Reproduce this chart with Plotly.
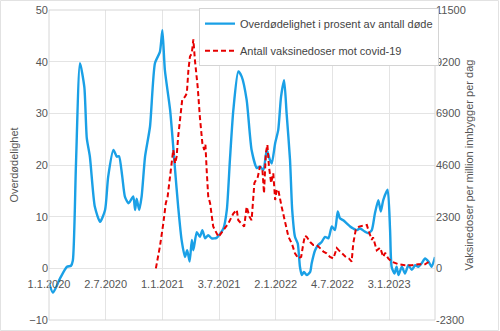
import plotly.graph_objects as go

# Overdødelighet (left axis, %)
excess_dates = [
    "2020-01-01", "2020-01-14", "2020-02-06", "2020-02-28", "2020-03-12", "2020-03-18",
    "2020-03-28", "2020-04-10", "2020-04-24", "2020-05-02", "2020-05-12", "2020-05-28",
    "2020-06-14", "2020-06-30", "2020-07-10", "2020-07-27", "2020-08-07", "2020-08-14",
    "2020-08-24", "2020-09-02", "2020-09-13", "2020-09-18", "2020-09-29", "2020-10-05",
    "2020-10-10", "2020-10-18", "2020-10-26", "2020-11-06", "2020-11-22", "2020-12-08",
    "2020-12-24", "2021-01-01", "2021-01-09", "2021-01-26", "2021-02-11", "2021-02-21",
    "2021-03-04", "2021-03-15", "2021-03-22", "2021-03-30", "2021-04-06", "2021-04-11",
    "2021-04-22", "2021-05-02", "2021-05-10", "2021-05-19", "2021-05-29", "2021-06-09",
    "2021-06-25", "2021-07-17", "2021-07-28", "2021-08-07", "2021-08-18", "2021-09-03",
    "2021-09-14", "2021-09-30", "2021-10-16", "2021-11-02", "2021-11-12", "2021-11-23",
    "2021-12-04", "2021-12-14", "2021-12-20", "2021-12-31", "2022-01-10", "2022-01-19",
    "2022-01-29", "2022-02-06", "2022-02-17", "2022-02-24", "2022-03-05", "2022-03-14",
    "2022-03-21", "2022-03-27", "2022-04-03", "2022-04-12", "2022-04-23", "2022-04-28",
    "2022-05-09", "2022-05-19", "2022-05-30", "2022-06-10", "2022-06-21", "2022-07-02",
    "2022-07-12", "2022-07-21", "2022-07-28", "2022-08-08", "2022-08-19", "2022-08-30",
    "2022-09-09", "2022-09-20", "2022-10-01", "2022-10-17", "2022-10-28", "2022-11-08",
    "2022-11-18", "2022-11-29", "2022-12-07", "2022-12-15", "2022-12-29", "2023-01-06",
    "2023-01-11", "2023-01-20", "2023-01-27", "2023-02-02", "2023-02-13", "2023-02-23",
    "2023-03-06", "2023-03-17", "2023-03-28", "2023-04-07", "2023-04-18", "2023-04-29",
    "2023-05-10", "2023-05-20", "2023-05-31",
]
excess_values = [
    -2.8, -4.7, -1.9, 0.3, 0.5, 1.5,
    20.0, 39.7, 35.1, 25.2, 21.6, 11.9,
    9.0, 11.3, 17.7, 22.9, 21.6, 21.7,
    18.0, 13.9, 12.6, 12.9, 13.9, 11.3,
    13.5, 11.3, 13.9, 21.6, 27.4, 39.7,
    41.9, 46.1, 38.4, 30.6, 19.0, 11.9,
    5.5, 2.2, 3.5, 1.3, 5.5, 3.5,
    7.0, 6.1, 7.4, 5.8, 6.4, 5.8,
    5.9, 7.7, 11.3, 21.0, 30.6, 38.1,
    37.1, 32.6, 22.9, 19.4, 19.7, 19.0,
    22.9, 21.0, 20.3, 24.2, 26.8, 33.2,
    36.4, 30.0, 21.0, 11.3, 6.1, 4.8,
    0.3, -1.3, -0.7, -1.3, -0.7, 1.0,
    3.5, 4.5, 5.1, 6.1, 5.8, 8.1,
    7.4, 11.0, 9.7, 9.3, 8.7, 8.1,
    7.7, 7.4, 7.7, 7.1, 6.8, 7.4,
    10.6, 13.2, 11.0, 13.2, 15.2, 7.4,
    0.3, -1.0, 0.3, -1.3, 0.3, -1.0,
    0.6, -0.3, 0.6, 0.3, 1.0, 1.9,
    1.3, 0.3, 2.2,
]

# Vaksinedoser per million innbygger per dag (right axis)
vacc_dates = [
    "2020-12-11", "2020-12-24", "2021-01-04", "2021-01-12", "2021-01-18", "2021-01-26",
    "2021-02-05", "2021-02-11", "2021-02-16", "2021-02-21", "2021-02-27", "2021-03-06",
    "2021-03-15", "2021-03-21", "2021-03-26", "2021-03-31", "2021-04-06", "2021-04-11",
    "2021-04-16", "2021-04-25", "2021-05-02", "2021-05-10", "2021-05-16", "2021-05-20",
    "2021-05-24", "2021-05-29", "2021-06-04", "2021-06-14", "2021-07-01", "2021-07-17",
    "2021-08-02", "2021-08-18", "2021-08-29", "2021-09-03", "2021-09-14", "2021-09-22",
    "2021-09-30", "2021-10-09", "2021-10-16", "2021-10-25", "2021-11-05", "2021-11-12",
    "2021-11-20", "2021-11-25", "2021-12-01", "2021-12-06", "2021-12-11", "2021-12-18",
    "2021-12-25", "2021-12-31", "2022-01-05", "2022-01-10", "2022-01-21", "2022-02-01",
    "2022-02-12", "2022-02-23", "2022-03-05", "2022-03-16", "2022-03-25", "2022-04-01",
    "2022-04-06", "2022-04-12", "2022-04-23", "2022-05-03", "2022-05-14", "2022-05-25",
    "2022-06-05", "2022-06-15", "2022-06-26", "2022-07-07", "2022-07-18", "2022-07-25",
    "2022-08-05", "2022-08-16", "2022-08-26", "2022-09-04", "2022-09-09", "2022-09-17",
    "2022-09-28", "2022-10-12", "2022-10-23", "2022-10-28", "2022-11-08", "2022-11-12",
    "2022-11-24", "2022-12-05", "2022-12-15", "2022-12-21", "2022-12-31", "2023-01-11",
    "2023-02-02", "2023-02-23", "2023-03-17", "2023-04-07", "2023-04-29", "2023-05-10",
]
vacc_values = [
    0, 970, 2000, 2900, 3200, 4070,
    5270, 4670, 4970, 5870, 6740, 7500,
    7640, 7800, 8830, 9430, 9570, 10190,
    9270, 8070, 6740, 5570, 5270, 5500,
    4370, 3200, 2900, 1860, 1400, 1700,
    2000, 2440, 2600, 2140, 2000, 1860,
    2740, 2300, 2140, 3800, 4070, 4530,
    4370, 3340, 5130, 5500, 4530, 3800,
    4230, 3040, 3500, 3500, 2740, 2000,
    1400, 1100, 670, 440, 510, 1100,
    1450, 1400, 1170, 1040, 1040, 900,
    740, 670, 510, 440, 900, 800,
    670, 510, 440, 300, 1100, 1700,
    1860, 1890, 1930, 1700, 1270, 1380,
    800, 920, 510, 690, 440, 300,
    180, 140, 140, 180, 180, 280,
]

tick_dates = ["2020-01-01", "2020-07-02", "2021-01-01", "2021-07-03",
              "2022-01-02", "2022-07-04", "2023-01-03"]
tick_labels = ["1.1.2020", "2.7.2020", "1.1.2021", "3.7.2021",
               "2.1.2022", "4.7.2022", "3.1.2023"]
left_ticks = [-10, 0, 10, 20, 30, 40, 50]
right_ticks = [-2300, 0, 2300, 4600, 6900, 9200, 11500]
right_tick_labels = ["-2300", "0", "2300", "4600", "6900", "9200", "11500"]

FONT = "Liberation Sans, Arial, sans-serif"
TICK_COLOR = "#555555"
GRID = "#E4E4E4"

fig = go.Figure()
fig.add_trace(go.Scatter(
    x=excess_dates, y=excess_values, mode="lines",
    name="Overdødelighet i prosent av antall døde",
    line=dict(color="#1AA0E6", width=2.4, shape="spline", smoothing=0.6),
    legendgroup="a", yaxis="y",
))
fig.add_trace(go.Scatter(
    x=vacc_dates, y=vacc_values, mode="lines",
    name="Antall vaksinedoser mot covid-19",
    line=dict(color="#E60000", width=2, dash="5px,3px"),
    legendgroup="b", yaxis="y2",
))

fig.update_layout(
    width=500, height=331,
    margin=dict(l=49, r=65, t=10, b=11, autoexpand=False),
    paper_bgcolor="white", plot_bgcolor="white",
    font=dict(family=FONT, size=11, color=TICK_COLOR),
    showlegend=True,
    legend=dict(
        x=0.3886, y=1.006, xanchor="left", yanchor="top",
        bgcolor="white", bordercolor="#D4D4D4", borderwidth=1,
        font=dict(family=FONT, size=11, color="#444444"),
        tracegroupgap=8, traceorder="grouped",
        itemwidth=30,
    ),
    xaxis=dict(
        type="date",
        range=["2020-01-01", "2023-05-31"],
        tickmode="array", tickvals=tick_dates, ticktext=tick_labels,
        showgrid=True, gridcolor=GRID, gridwidth=1,
        showline=False, zeroline=False, ticks="",
        anchor="free", position=1/6, ticklabelstandoff=8,
        automargin=False,
        tickfont=dict(family=FONT, size=11, color=TICK_COLOR),
    ),
    yaxis=dict(
        range=[-10, 50], tickmode="array", tickvals=left_ticks,
        showgrid=True, gridcolor=GRID, gridwidth=1, zeroline=False,
        showline=False, ticks="", automargin=False,
        tickfont=dict(family=FONT, size=11, color=TICK_COLOR),
        title=dict(text="Overdødelighet", font=dict(family=FONT, size=11, color=TICK_COLOR), standoff=8),
    ),
    yaxis2=dict(
        range=[-2300, 11500], tickmode="array", tickvals=right_ticks,
        ticktext=right_tick_labels,
        overlaying="y", side="right", showgrid=False, zeroline=False,
        showline=False, ticks="", automargin=False,
        tickfont=dict(family=FONT, size=11, color=TICK_COLOR),
        title=dict(text="Vaksinedoser per million innbygger per dag",
                   font=dict(family=FONT, size=11, color=TICK_COLOR), standoff=0),
    ),
    shapes=[
        dict(type="rect", xref="paper", yref="paper", x0=0, x1=1, y0=0, y1=1,
             line=dict(color="#D6D6D6", width=1), fillcolor="rgba(0,0,0,0)", layer="above"),
        dict(type="rect", xref="paper", yref="paper",
             x0=-48.5/386, x1=449.5/386, y0=-10.5/310, y1=1 + 9.5/310,
             line=dict(color="#E2E2E2", width=1), fillcolor="rgba(0,0,0,0)"),
    ],
)

fig.write_html("out.html")
